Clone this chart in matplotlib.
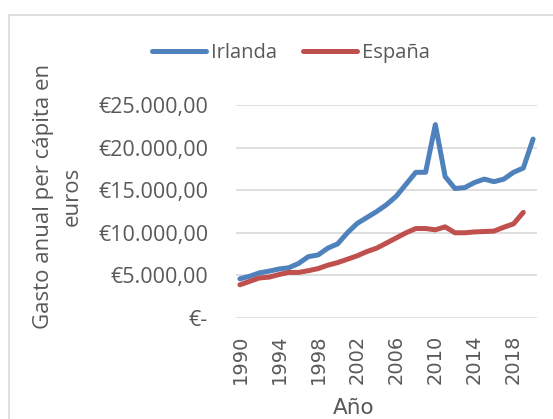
import matplotlib
matplotlib.use("Agg")
from matplotlib import pyplot as plt
from matplotlib.patches import Rectangle
from matplotlib.ticker import FuncFormatter

years = list(range(1990, 2021))
irlanda = [4600, 4900, 5300, 5500, 5750, 5900, 6400, 7200, 7400, 8200,
           8700, 10000, 11100, 11800, 12500, 13300, 14300, 15700, 17100, 17100,
           22700, 16600, 15200, 15300, 15900, 16300, 16000, 16300, 17100, 17600,
           21000]
espana_years = list(range(1990, 2020))
espana = [3900, 4300, 4700, 4800, 5100, 5350, 5350, 5550, 5800, 6200,
          6500, 6900, 7300, 7800, 8200, 8800, 9400, 10000, 10500, 10500,
          10350, 10700, 10000, 10000, 10100, 10150, 10200, 10650, 11050, 12400]
xticks = list(range(1990, 2019, 4))

txt = '#595959'
plt.rcParams['font.family'] = ['Open Sans', 'DejaVu Sans']

fig = plt.figure(figsize=(5.53, 4.19), dpi=100)
W, H = 553, 419
ax = fig.add_axes([236 / W, (H - 318) / H, (537 - 236) / W, (318 - 105) / H])

# borde del área del gráfico
fig.patches.append(Rectangle((9 / W, -0.1), 1.2, (H - 15) / H + 0.1,
                             transform=fig.transFigure, fill=False,
                             edgecolor='#d9d9d9', linewidth=1.2))

ax.plot(years, irlanda, color='#4f81bd', lw=3.6, label='Irlanda', solid_capstyle='round')
ax.plot(espana_years, espana, color='#c0504d', lw=3.6, label='España', solid_capstyle='round')

ax.set_xlim(1989.6, 2020.4)
ax.set_ylim(0, 25000)
ax.set_yticks(range(0, 25001, 5000))
ax.yaxis.set_major_formatter(FuncFormatter(
    lambda v, p: '€-' if v == 0 else '€' + f'{v:,.2f}'.replace(',', 'X').replace('.', ',').replace('X', '.')))
ax.set_xticks(xticks)
ax.set_xticklabels([str(y) for y in xticks], rotation=90, fontsize=14,
                   family='DejaVu Sans', color=txt)
for lab in ax.get_yticklabels():
    lab.set_fontsize(15.5)
    lab.set_color(txt)

ax.grid(axis='y', color='#d9d9d9', lw=1.2)
ax.set_axisbelow(True)
for s in ax.spines.values():
    s.set_visible(False)
ax.tick_params(length=0, pad=20)
ax.tick_params(axis='x', pad=12)

fig.text(58 / W, (H - 196) / H, 'Gasto anual per cápita en\neuros', rotation=90,
         ha='center', va='center', fontsize=16, color=txt, linespacing=1.5)
fig.text(354 / W, (H - 398) / H, 'Año', ha='center', va='top', fontsize=15.5,
         family='DejaVu Sans', color=txt)

ax.legend(loc='center', bbox_to_anchor=(291 / W, (H - 53) / H),
          bbox_transform=fig.transFigure, ncol=2, frameon=False,
          fontsize=14.5, handlelength=2.7, handletextpad=0.25, columnspacing=1.25,
          labelcolor=txt)

fig.savefig('out.png', dpi=100)
